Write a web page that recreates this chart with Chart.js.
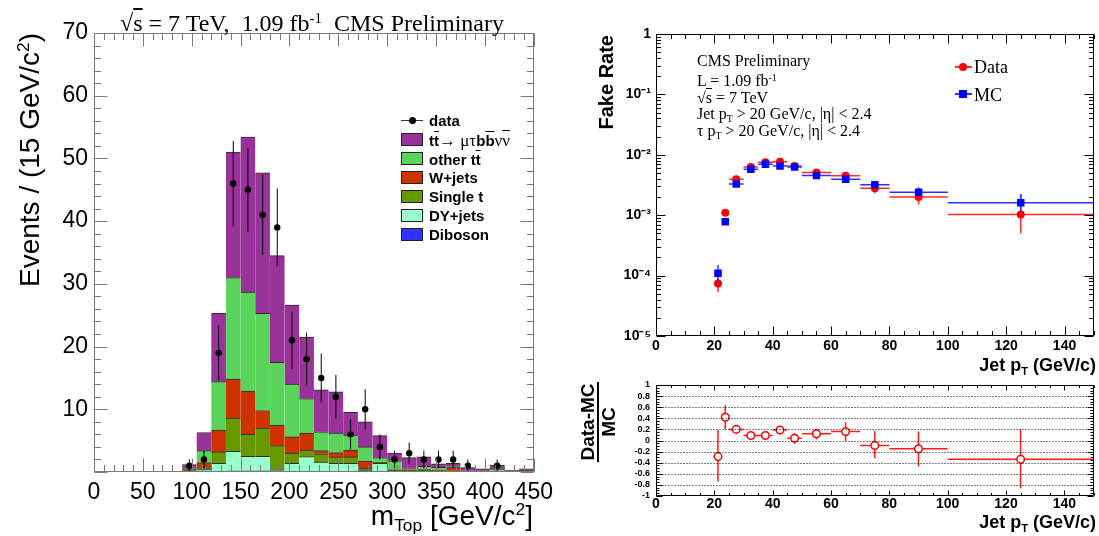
<!DOCTYPE html>
<html>
<head>
<meta charset="utf-8">
<script src="https://cdn.jsdelivr.net/npm/chart.js@4.4.0/dist/chart.umd.min.js"></script>
<style>
  body { margin: 0; background: #fff; }
  #page { position: relative; width: 1099px; height: 536px; overflow: hidden; font-family: "Liberation Sans", Arial, sans-serif; }
  canvas { position: absolute; }
  .t { position: absolute; white-space: nowrap; line-height: 1; color: #000; }
  .serif { font-family: "Liberation Serif", "Times New Roman", serif; font-weight: normal; }
  .ov { text-decoration: overline; }
  .sup { font-size: .62em; vertical-align: .55em; line-height: 0; }
  .sub { font-size: .62em; vertical-align: -.35em; line-height: 0; }
  .rot { transform-origin: 0 0; transform: rotate(-90deg); }
  .box { position: absolute; width: 20px; height: 11px; border: 1px solid #222; }
  .b { font-weight: bold; }
</style>
</head>
<body>
<div id="page">
  <canvas id="mass" width="560" height="536" style="left:0;top:0"></canvas>
  <canvas id="fake" width="539" height="370" style="left:560px;top:0"></canvas>
  <canvas id="ratio" width="539" height="166" style="left:560px;top:370px"></canvas>

  <!-- left plot texts -->
  <div class="t serif" style="left:0;width:624px;text-align:center;top:11px;font-size:24px">√<span class="ov">s</span> = 7 TeV,&nbsp; 1.09 fb<span class="sup">-1</span>&nbsp; CMS Preliminary</div>
  <div class="t rot" style="left:16px;top:303px;width:270px;text-align:right;font-size:28px">Events / (15 GeV/c<span class="sup">2</span>)</div>
  <div class="t" style="left:300px;width:233px;text-align:right;top:502px;font-size:28px">m<span class="sub">Top</span> [GeV/c<span class="sup">2</span>]</div>

  <!-- left legend -->
  <div style="position:absolute;left:401px;top:120px;width:22px;height:1px;background:#333"></div>
  <div style="position:absolute;left:409px;top:117px;width:7px;height:7px;border-radius:50%;background:#000"></div>
  <div class="t b" style="left:429px;top:113px;font-size:15px">data</div>
  <div class="box" style="left:401px;top:133px;background:#993399"></div>
  <div class="t b" style="left:429px;top:132px;font-size:15px">t<span class="ov">t</span><span class="serif" style="font-size:17px">→ μτ</span>b<span class="ov">b</span><span class="serif" style="font-size:17px">ν<span class="ov">ν</span></span></div>
  <div class="box" style="left:401px;top:152px;background:#5ad45a"></div>
  <div class="t b" style="left:429px;top:152px;font-size:15px">other t<span class="ov">t</span></div>
  <div class="box" style="left:401px;top:171px;background:#cc3300"></div>
  <div class="t b" style="left:429px;top:170px;font-size:15px">W+jets</div>
  <div class="box" style="left:401px;top:190px;background:#669900"></div>
  <div class="t b" style="left:429px;top:189px;font-size:15px">Single t</div>
  <div class="box" style="left:401px;top:209px;background:#99ffcc"></div>
  <div class="t b" style="left:429px;top:208px;font-size:15px">DY+jets</div>
  <div class="box" style="left:401px;top:228px;background:#3333ff"></div>
  <div class="t b" style="left:429px;top:227px;font-size:15px">Diboson</div>

  <!-- right plot texts -->
  <div class="t rot b" style="left:596px;top:235px;width:200px;text-align:right;font-size:20px">Fake Rate</div>
  <div class="t b" style="left:900px;width:196px;text-align:right;top:356px;font-size:18px">Jet p<span class="sub">T</span> (GeV/c)</div>
  <div class="t b" style="left:900px;width:196px;text-align:right;top:513px;font-size:18px">Jet p<span class="sub">T</span> (GeV/c)</div>
  <div class="t b" style="left:558px;top:402px;width:80px;text-align:center;font-size:19px;transform:rotate(-90deg)">
    <div style="line-height:19px;border-bottom:2px solid #000">Data-MC</div>
    <div style="line-height:19px">MC</div>
  </div>

  <div class="t serif" style="left:697px;top:53px;font-size:16px">CMS Preliminary</div>
  <div class="t serif" style="left:697px;top:73px;font-size:16px">L = 1.09 fb<span class="sup">-1</span></div>
  <div class="t serif" style="left:697px;top:90px;font-size:16px">√<span class="ov">s</span> = 7 TeV</div>
  <div class="t serif" style="left:697px;top:106px;font-size:16px">Jet p<span class="sub">T</span> &gt; 20 GeV/c, |η| &lt; 2.4</div>
  <div class="t serif" style="left:697px;top:123px;font-size:16px">τ p<span class="sub">T</span> &gt; 20 GeV/c, |η| &lt; 2.4</div>

  <!-- right legend -->
  <div style="position:absolute;left:955px;top:66px;width:17px;height:2px;background:#ff3030"></div>
  <div style="position:absolute;left:959px;top:63px;width:8px;height:8px;border-radius:50%;background:#ff0000"></div>
  <div class="t serif" style="left:974px;top:58px;font-size:18px">Data</div>
  <div style="position:absolute;left:955px;top:93px;width:17px;height:2px;background:#3030ff"></div>
  <div style="position:absolute;left:959px;top:90px;width:8px;height:8px;background:#0000ff"></div>
  <div class="t serif" style="left:974px;top:86px;font-size:18px">MC</div>
</div>

<script>
// ---- m_top histogram (15 GeV bins from 90 to 450) ----
const massBins = [97.5, 112.5, 127.5, 142.5, 157.5, 172.5, 187.5, 202.5, 217.5, 232.5, 247.5, 262.5,
                  277.5, 292.5, 307.5, 322.5, 337.5, 352.5, 367.5, 382.5, 397.5, 412.5, 427.5, 442.5];
const diboson   = [0, 0, 0.1, 0.2, 0.2, 0.2, 0.1, 0, 0, 0, 0, 0, 0, 0, 0, 0, 0, 0, 0, 0, 0, 0, 0, 0];
const dyJets    = [0.2, 0.4, 1.3, 3.1, 2.3, 2.3, 0.2, 1.4, 2.45, 1.6, 1.4, 1.4, 0.3, 1.4, 0.1, 0.1, 0.1, 0.1, 0.1, 0.05, 0.05, 0.4, 0.05, 0.1];
const singleTop = [0.1, 0.3, 1.8, 5.3, 3.5, 4.5, 3.9, 1.6, 1.05, 1.3, 1.0, 1.0, 0.3, 0.1, 0.2, 0.2, 0.2, 0.1, 0.1, 0.05, 0.05, 0.1, 0.05, 0.1];
const wJets     = [0.1, 0.8, 3.5, 6.2, 6.9, 2.8, 3.3, 2.6, 2.7, 0.5, 0.7, 1.1, 1.15, 0, 0.05, 0, 0.1, 0.1, 0.6, 0.05, 0.05, 0, 0.05, 0.05];
const otherTT   = [0.1, 1.9, 7.7, 16.2, 15.8, 15.5, 10.0, 8.4, 5.5, 3.0, 3.1, 2.4, 2.25, 0.8, 1.45, 0.2, 0.5, 0.45, 0.15, 0.05, 0.05, 0.1, 0.05, 0.05];
const signalTT  = [0.7, 2.9, 10.9, 20.0, 24.7, 22.4, 17.0, 12.6, 9.8, 6.7, 6.6, 3.6, 4.0, 3.5, 1.2, 1.8, 1.5, 0.55, 0.45, 0.5, 0.3, 0.5, 0.1, 0.2];
const dataCounts = [1, 2, 19, 46, 45, 41, 39, 21, 18, 15, 12, 6, 10, 4, 2, 3, 2, 2, 2, 1, null, 1, null, null];
const dataErr    = [1, 1.4, 4.4, 6.8, 6.7, 6.4, 6.2, 4.6, 4.2, 3.9, 3.5, 2.4, 3.2, 2, 1.4, 1.7, 1.4, 1.4, 1.4, 1, null, 1, null, null];
const massTicks = [0, 50, 100, 150, 200, 250, 300, 350, 400, 450];

// ---- fake rate vs jet pT ----
const ptLow    = [20, 22.5, 25, 30, 35, 40, 45, 50, 60, 70, 80, 100];
const ptHigh   = [22.5, 25, 30, 35, 40, 45, 50, 60, 70, 80, 100, 150];
const ptCenter = [21.25, 23.75, 27.5, 32.5, 37.5, 42.5, 47.5, 55, 65, 75, 90, 125];
const fakeData   = [7.4e-5, 1.10e-3, 3.95e-3, 6.3e-3, 7.5e-3, 7.7e-3, 6.5e-3, 5.1e-3, 4.5e-3, 2.8e-3, 2.0e-3, 1.03e-3];
const fakeDataLo = [5.3e-5, 1.0e-3, 3.7e-3, 6.0e-3, 7.2e-3, 7.4e-3, 6.2e-3, 4.8e-3, 4.2e-3, 2.3e-3, 1.5e-3, 5.0e-4];
const fakeDataHi = [9.6e-5, 1.2e-3, 4.2e-3, 6.6e-3, 7.8e-3, 8.0e-3, 6.8e-3, 5.4e-3, 4.8e-3, 3.3e-3, 2.6e-3, 2.25e-3];
const fakeMC     = [1.09e-4, 7.8e-4, 3.3e-3, 5.75e-3, 6.95e-3, 6.5e-3, 6.3e-3, 4.55e-3, 3.95e-3, 3.2e-3, 2.4e-3, 1.6e-3];
const fakeMCLo   = [8.0e-5, 7.0e-4, 3.0e-3, 5.4e-3, 6.6e-3, 6.2e-3, 6.0e-3, 4.3e-3, 3.7e-3, 2.9e-3, 2.05e-3, 1.15e-3];
const fakeMCHi   = [1.5e-4, 8.6e-4, 3.6e-3, 6.1e-3, 7.3e-3, 6.9e-3, 6.6e-3, 4.8e-3, 4.2e-3, 3.6e-3, 2.9e-3, 2.25e-3];
const ratioVal = [-0.29, 0.42, 0.2, 0.09, 0.09, 0.19, 0.04, 0.12, 0.16, -0.09, -0.15, -0.34];
const ratioLo  = [-0.74, 0.2, 0.17, 0.06, 0.06, 0.16, -0.06, 0.02, -0.01, -0.32, -0.47, -0.86];
const ratioHi  = [0.19, 0.64, 0.23, 0.12, 0.12, 0.22, 0.13, 0.2, 0.33, 0.17, 0.16, 0.2];

Chart.defaults.font.family = "'Liberation Sans', Arial, sans-serif";
Chart.defaults.color = '#000';

function range(a, b, step) {
  const out = [];
  for (let v = a; v <= b + 1e-9; v += step) out.push(Math.round(v * 1000) / 1000);
  return out;
}

// ROOT style frame with inward ticks on all four sides
const rootFrame = {
  id: 'rootFrame',
  afterDraw(chart, args, o) {
    const { ctx, chartArea: a } = chart;
    const xs = chart.scales.x, ys = chart.scales.y;
    const L = Math.round(a.left) + 0.5, R = Math.round(a.right) - 0.5;
    const T = Math.round(a.top) + 0.5, B = Math.round(a.bottom) - 0.5;
    ctx.save();
    ctx.lineWidth = 1;
    if (o.grid) {
      ctx.strokeStyle = '#000';
      ctx.setLineDash([1, 2]);
      ctx.beginPath();
      o.grid.forEach(v => {
        const py = Math.round(ys.getPixelForValue(v)) + 0.5;
        ctx.moveTo(L, py); ctx.lineTo(R, py);
      });
      ctx.stroke();
      ctx.setLineDash([]);
    }
    ctx.strokeStyle = o.color;
    ctx.beginPath();
    ctx.rect(L, T, R - L, B - T);
    const xt = (vals, len) => vals.forEach(v => {
      const px = Math.round(xs.getPixelForValue(v)) + 0.5;
      ctx.moveTo(px, B); ctx.lineTo(px, B - len);
      ctx.moveTo(px, T); ctx.lineTo(px, T + len);
    });
    const yt = (vals, len) => vals.forEach(v => {
      const py = Math.round(ys.getPixelForValue(v)) + 0.5;
      ctx.moveTo(L, py); ctx.lineTo(L + len, py);
      ctx.moveTo(R, py); ctx.lineTo(R - len, py);
    });
    xt(o.xMajor, o.major[0]);
    xt(o.xMinor, o.minor[0]);
    yt(o.yMajor, o.major[1]);
    yt(o.yMinor, o.minor[1]);
    ctx.stroke();
    ctx.restore();
  }
};

// error bars drawn just before the markers of a dataset
const errorBars = {
  id: 'errorBars',
  beforeDatasetDraw(chart, args) {
    const ds = chart.data.datasets[args.index];
    if (!ds.errorColor) return;
    const { ctx, chartArea: a } = chart;
    const xs = chart.scales.x, ys = chart.scales.y;
    ctx.save();
    ctx.beginPath();
    ctx.rect(a.left, a.top, a.right - a.left, a.bottom - a.top);
    ctx.clip();
    ctx.strokeStyle = ds.errorColor;
    ctx.lineWidth = ds.errorWidth || 1;
    ctx.beginPath();
    ds.data.forEach(p => {
      const px = xs.getPixelForValue(p.x), py = ys.getPixelForValue(p.y);
      if (p.yl != null) { ctx.moveTo(px, ys.getPixelForValue(p.yl)); ctx.lineTo(px, ys.getPixelForValue(p.yh)); }
      if (p.xl != null) { ctx.moveTo(xs.getPixelForValue(p.xl), py); ctx.lineTo(xs.getPixelForValue(p.xh), py); }
    });
    ctx.stroke();
    ctx.restore();
  }
};
Chart.register(rootFrame, errorBars);

// ---------- left: stacked m_top ----------
const stackParts = [
  { label: 'Diboson', values: diboson, color: '#3333ff' },
  { label: 'DY+jets', values: dyJets, color: '#99ffcc' },
  { label: 'Single t', values: singleTop, color: '#669900' },
  { label: 'W+jets', values: wJets, color: '#cc3300' },
  { label: 'other tt', values: otherTT, color: '#5ad45a' },
  { label: 'tt -> mu tau b b nu nu', values: signalTT, color: '#993399' }
];

const massSets = stackParts.map(part => ({
  type: 'bar',
  label: part.label,
  data: massBins.map((m, i) => ({ x: m, y: part.values[i] })),
  backgroundColor: part.color,
  borderColor: '#2b2b2b',
  borderWidth: { top: 1, left: 0, right: 0, bottom: 0 },
  barPercentage: 1,
  categoryPercentage: 1,
  stack: 'mc',
  order: 1
}));

const dataPoints = [];
massBins.forEach((m, i) => {
  if (dataCounts[i] != null) dataPoints.push({ x: m, y: dataCounts[i], yl: dataCounts[i] - dataErr[i], yh: dataCounts[i] + dataErr[i] });
});
massSets.push({
  type: 'scatter',
  label: 'data',
  data: dataPoints,
  pointRadius: 3.2,
  pointBackgroundColor: '#000',
  pointBorderColor: '#000',
  pointBorderWidth: 0,
  showLine: false,
  stack: 'data',
  order: 0,
  errorColor: '#000',
  errorWidth: 1
});

new Chart(document.getElementById('mass'), {
  type: 'bar',
  data: { datasets: massSets },
  options: {
    responsive: false,
    animation: false,
    events: [],
    layout: { padding: { top: 33, right: 26, left: 0, bottom: 0 } },
    plugins: {
      legend: { display: false },
      tooltip: { enabled: false },
      rootFrame: {
        color: '#7a7a7a',
        xMajor: massTicks, xMinor: range(0, 450, 10),
        yMajor: range(0, 70, 10), yMinor: range(0, 70, 2),
        major: [13, 13], minor: [6.5, 6.5]
      }
    },
    scales: {
      x: {
        type: 'linear', min: 0, max: 450, stacked: true, offset: false,
        grid: { display: false, drawTicks: false, offset: false }, border: { display: false },
        afterBuildTicks: s => { s.ticks = massTicks.map(v => ({ value: v })); },
        ticks: { font: { size: 23 }, padding: 7, autoSkip: false, maxRotation: 0 },
        afterFit: s => { s.height = 64; }
      },
      y: {
        min: 0, max: 70, stacked: true,
        grid: { display: false, drawTicks: false }, border: { display: false },
        ticks: { stepSize: 10, font: { size: 23 }, padding: 6, callback: v => v === 0 ? '' : v },
        afterFit: s => { s.width = 94; }
      }
    }
  }
});

// ---------- right top: fake rate ----------
const supMap = { '-': '⁻', '0': '⁰', '1': '¹', '2': '²', '3': '³', '4': '⁴', '5': '⁵' };
function logLabel(v) {
  const lg = Math.log10(v), e = Math.round(lg);
  if (Math.abs(lg - e) > 1e-6) return '';
  if (e === 0) return '1';
  return '10' + String(e).split('').map(c => supMap[c]).join('');
}
const fakeYMinor = [];
[-5, -4, -3, -2, -1].forEach(e => { for (let k = 2; k <= 9; k++) fakeYMinor.push(k * Math.pow(10, e)); });
const ptMajor = range(0, 140, 20);
const ptMinor = range(0, 150, 5);

new Chart(document.getElementById('fake'), {
  type: 'scatter',
  data: {
    datasets: [
      {
        label: 'MC',
        data: ptCenter.map((x, i) => ({ x, y: fakeMC[i], xl: ptLow[i], xh: ptHigh[i], yl: fakeMCLo[i], yh: fakeMCHi[i] })),
        pointStyle: 'rect', pointRadius: 5.3,
        pointBackgroundColor: '#0000ff', pointBorderColor: '#0000ff', pointBorderWidth: 0,
        errorColor: '#2f2fff', errorWidth: 1.5, order: 0
      },
      {
        label: 'Data',
        data: ptCenter.map((x, i) => ({ x, y: fakeData[i], xl: ptLow[i], xh: ptHigh[i], yl: fakeDataLo[i], yh: fakeDataHi[i] })),
        pointStyle: 'circle', pointRadius: 4,
        pointBackgroundColor: '#ff0000', pointBorderColor: '#ff0000', pointBorderWidth: 0,
        errorColor: '#ff2a2a', errorWidth: 1.5, order: 1
      }
    ]
  },
  options: {
    responsive: false,
    animation: false,
    events: [],
    layout: { padding: { top: 34, right: 3, left: 0, bottom: 0 } },
    plugins: {
      legend: { display: false },
      tooltip: { enabled: false },
      rootFrame: {
        color: '#000',
        xMajor: ptMajor, xMinor: ptMinor,
        yMajor: [1e-5, 1e-4, 1e-3, 1e-2, 1e-1, 1], yMinor: fakeYMinor,
        major: [9, 9], minor: [4.5, 4.5]
      }
    },
    scales: {
      x: {
        type: 'linear', min: 0, max: 150,
        grid: { display: false, drawTicks: false }, border: { display: false },
        afterBuildTicks: s => { s.ticks = ptMajor.map(v => ({ value: v })); },
        ticks: { font: { size: 14, weight: 'bold' }, padding: 2, autoSkip: false, maxRotation: 0 },
        afterFit: s => { s.height = 34; }
      },
      y: {
        type: 'logarithmic', min: 1e-5, max: 1,
        grid: { display: false, drawTicks: false }, border: { display: false },
        afterBuildTicks: s => { s.ticks = [1e-5, 1e-4, 1e-3, 1e-2, 1e-1, 1].map(v => ({ value: v, major: true })); },
        ticks: { font: { size: 14, weight: 'bold' }, padding: 5, autoSkip: false, callback: v => logLabel(v) },
        afterFit: s => { s.width = 96; }
      }
    }
  }
});

// ---------- right bottom: (Data-MC)/MC ----------
const ratioMajor = range(-1, 1, 0.2);
new Chart(document.getElementById('ratio'), {
  type: 'scatter',
  data: {
    datasets: [{
      label: '(Data-MC)/MC',
      data: ptCenter.map((x, i) => ({ x, y: ratioVal[i], xl: ptLow[i], xh: ptHigh[i], yl: ratioLo[i], yh: ratioHi[i] })),
      pointStyle: 'circle', pointRadius: 3.8,
      pointBackgroundColor: '#fff', pointBorderColor: '#ff0000', pointBorderWidth: 1.5,
      errorColor: '#ff1a1a', errorWidth: 1.5
    }]
  },
  options: {
    responsive: false,
    animation: false,
    events: [],
    layout: { padding: { top: 15, right: 3, left: 0, bottom: 0 } },
    plugins: {
      legend: { display: false },
      tooltip: { enabled: false },
      rootFrame: {
        color: '#000',
        grid: range(-0.8, 0.8, 0.2),
        xMajor: ptMajor, xMinor: ptMinor,
        yMajor: ratioMajor, yMinor: range(-1, 1, 0.05),
        major: [5, 6], minor: [2.5, 3]
      }
    },
    scales: {
      x: {
        type: 'linear', min: 0, max: 150,
        grid: { display: false, drawTicks: false }, border: { display: false },
        afterBuildTicks: s => { s.ticks = ptMajor.map(v => ({ value: v })); },
        ticks: { font: { size: 14, weight: 'bold' }, padding: 0, autoSkip: false, maxRotation: 0 },
        afterFit: s => { s.height = 40; }
      },
      y: {
        min: -1, max: 1,
        grid: { display: false, drawTicks: false }, border: { display: false },
        afterBuildTicks: s => { s.ticks = ratioMajor.map(v => ({ value: v })); },
        ticks: { font: { size: 9, weight: 'bold' }, padding: 6, autoSkip: false,
                 callback: v => { const r = Math.round(v * 10) / 10; return r === 0 ? '0' : String(r); } },
        afterFit: s => { s.width = 96; }
      }
    }
  }
});
</script>
</body>
</html>
